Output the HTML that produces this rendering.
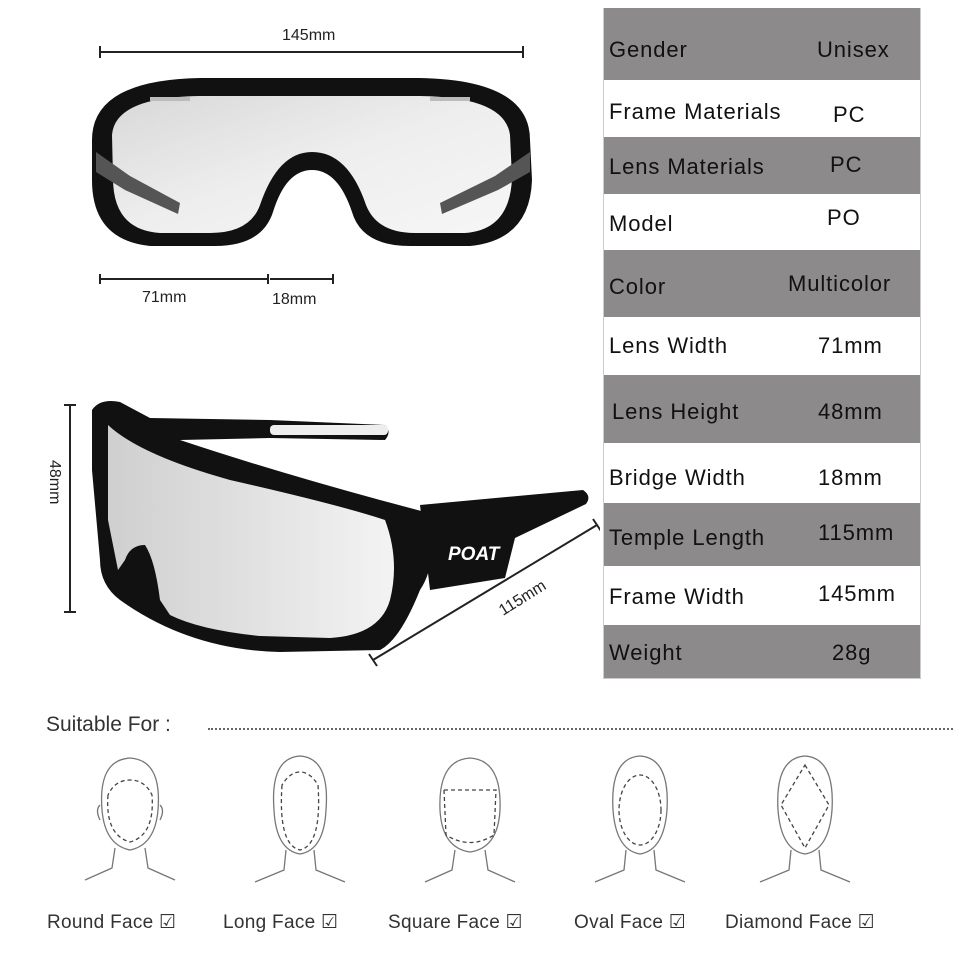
<!DOCTYPE html>
<html><head><meta charset="utf-8"><style>
html,body{margin:0;padding:0;background:#fff;width:960px;height:960px;overflow:hidden;font-family:"Liberation Sans","DejaVu Sans",sans-serif;}
.abs{position:absolute}
.tbl{position:absolute;left:603px;top:8px;width:316px;border:1px solid #ccc;border-top:none}
.row{position:relative;font-size:22px;color:#111;letter-spacing:0.9px}
.row.g{background:#8c8a8a}
.row .k{position:absolute;left:5px}
.row .v{position:absolute}
.face{position:absolute;font-size:19px;color:#333;top:911px;letter-spacing:0.3px}
</style></head><body>

<svg class="abs" style="left:0;top:0" width="600" height="700" viewBox="0 0 600 700">
<defs>
<linearGradient id="lens" x1="0" x2="1" y1="0" y2="1">
<stop offset="0" stop-color="#d8d8d8"/><stop offset="0.5" stop-color="#eeeeee"/><stop offset="1" stop-color="#f6f6f6"/></linearGradient>
<linearGradient id="lens2" x1="0" x2="1"><stop offset="0" stop-color="#cfcfcf"/><stop offset="1" stop-color="#f3f3f3"/></linearGradient>
</defs>
<g stroke="#222" stroke-width="2">
<line x1="100" y1="52" x2="523" y2="52"/><line x1="100" y1="46" x2="100" y2="58"/><line x1="523" y1="46" x2="523" y2="58"/>
<line x1="100" y1="279" x2="268" y2="279"/><line x1="100" y1="274" x2="100" y2="284"/><line x1="268" y1="274" x2="268" y2="284"/>
<line x1="270" y1="279" x2="333" y2="279"/><line x1="333" y1="274" x2="333" y2="284"/>
<line x1="70" y1="405" x2="70" y2="612"/><line x1="64" y1="405" x2="76" y2="405"/><line x1="64" y1="612" x2="76" y2="612"/>
<line x1="373" y1="660" x2="597" y2="525"/><line x1="369" y1="654" x2="377" y2="666"/><line x1="593" y1="519" x2="601" y2="531"/>
</g>
<path d="M92 140 Q92 80 200 78 L420 78 Q530 80 530 140 L532 180 Q530 240 470 246 L410 246 Q362 246 352 212 Q338 170 312 170 Q286 170 273 212 Q262 246 215 246 L150 246 Q92 240 92 180 Z" fill="#111"/>
<path d="M112 135 Q115 97 200 96 L420 96 Q505 97 510 135 L512 178 Q510 230 465 233 L415 233 Q377 233 366 205 Q348 152 312 152 Q278 152 260 205 Q250 233 210 233 L160 233 Q113 230 113 178 Z" fill="url(#lens)"/>
<path d="M96 152 L130 176 L180 203 L178 214 L125 190 L96 172Z" fill="#555"/>
<path d="M530 152 L495 176 L440 203 L442 214 L498 190 L530 172Z" fill="#555"/>
<rect x="150" y="97" width="40" height="4" fill="#bbb"/><rect x="430" y="97" width="40" height="4" fill="#bbb"/>
<path d="M420 505 L583 490 Q592 496 586 504 L515 538 L505 578 L430 590 Z" fill="#111"/>
<path d="M92 410 Q100 398 120 402 L150 418 L270 420 L385 425 Q392 432 385 440 L270 438 L180 440 Q270 470 380 500 L425 512 Q440 560 420 590 Q400 640 380 650 L280 652 Q190 650 120 600 Q100 585 100 560 L92 470 Z" fill="#111"/>
<path d="M108 425 Q140 455 230 480 Q340 505 385 520 Q400 560 390 600 Q380 635 330 638 L260 636 Q200 630 170 615 L160 600 Q155 560 145 545 Q130 545 125 560 L118 570 L108 520 Z" fill="url(#lens2)"/>
<rect x="270" y="425" width="118" height="10" rx="4" fill="#eee"/>
<text x="448" y="560" font-family="Liberation Sans" font-weight="bold" font-style="italic" font-size="19" fill="#fff">POAT</text>
<text x="282" y="40" font-size="16" fill="#222">145mm</text>
<text x="142" y="302" font-size="16" fill="#222">71mm</text>
<text x="272" y="304" font-size="16" fill="#222">18mm</text>
<text x="0" y="0" font-size="16" fill="#222" transform="translate(50 460) rotate(90)">48mm</text>
<text x="0" y="0" font-size="16" fill="#222" transform="translate(503 616) rotate(-32)">115mm</text>
</svg>

<div class="tbl">
<div class="row g" style="height:72px"><span class="k" style="top:29px">Gender</span><span class="v" style="left:213px;top:29px">Unisex</span></div>
<div class="row" style="height:57px"><span class="k" style="top:19px">Frame Materials</span><span class="v" style="left:229px;top:22px">PC</span></div>
<div class="row g" style="height:57px"><span class="k" style="top:17px">Lens Materials</span><span class="v" style="left:226px;top:15px">PC</span></div>
<div class="row" style="height:56px"><span class="k" style="top:17px">Model</span><span class="v" style="left:223px;top:11px">PO</span></div>
<div class="row g" style="height:67px"><span class="k" style="top:24px">Color</span><span class="v" style="left:184px;top:21px">Multicolor</span></div>
<div class="row" style="height:58px"><span class="k" style="top:16px">Lens Width</span><span class="v" style="left:214px;top:16px">71mm</span></div>
<div class="row g" style="height:68px"><span class="k" style="left:8px;top:24px">Lens Height</span><span class="v" style="left:214px;top:24px">48mm</span></div>
<div class="row" style="height:60px"><span class="k" style="top:22px">Bridge Width</span><span class="v" style="left:214px;top:22px">18mm</span></div>
<div class="row g" style="height:63px"><span class="k" style="top:22px">Temple Length</span><span class="v" style="left:214px;top:17px">115mm</span></div>
<div class="row" style="height:59px"><span class="k" style="top:18px">Frame Width</span><span class="v" style="left:214px;top:15px">145mm</span></div>
<div class="row g" style="height:53px"><span class="k" style="top:15px">Weight</span><span class="v" style="left:228px;top:15px">28g</span></div>
</div>

<div class="abs" style="left:46px;top:713px;font-size:21px;color:#333">Suitable For :</div>
<div class="abs" style="left:208px;top:728px;width:745px;border-top:2px dotted #666"></div>

<svg class="abs" style="left:0;top:750px" width="960" height="150" viewBox="0 0 960 150">
<g fill="none" stroke="#777" stroke-width="1.3">
<g transform="translate(130 0)"><path d="M-28 60 Q-32 10 0 8 Q32 10 28 60 Q25 95 0 100 Q-25 95 -28 60Z"/><path d="M-15 98 L-18 118 L-45 130 M15 98 L18 118 L45 130"/><path d="M-30 55 Q-35 60 -30 70 M30 55 Q35 60 30 70"/><path d="M-22 45 Q-25 85 0 92 Q25 85 22 45 Q15 30 0 30 Q-15 30 -22 45Z" stroke-dasharray="4 3" stroke="#444"/></g>
<g transform="translate(300 0)"><path d="M-26 60 Q-30 8 0 6 Q30 8 26 60 Q24 100 0 104 Q-24 100 -26 60Z"/><path d="M-14 100 L-16 120 L-45 132 M14 100 L16 120 L45 132"/><path d="M-18 35 Q-22 95 0 100 Q22 95 18 35 Q10 22 0 22 Q-10 22 -18 35Z" stroke-dasharray="4 3" stroke="#444"/></g>
<g transform="translate(470 0)"><path d="M-30 60 Q-32 10 0 8 Q32 10 30 60 Q28 98 0 102 Q-28 98 -30 60Z"/><path d="M-15 100 L-18 120 L-45 132 M15 100 L18 120 L45 132"/><path d="M-26 40 L26 40 L24 85 Q0 100 -24 85Z" stroke-dasharray="4 3" stroke="#444"/></g>
<g transform="translate(640 0)"><path d="M-27 60 Q-30 8 0 6 Q30 8 27 60 Q24 100 0 104 Q-24 100 -27 60Z"/><path d="M-14 100 L-16 120 L-45 132 M14 100 L16 120 L45 132"/><ellipse cx="0" cy="60" rx="21" ry="35" stroke-dasharray="4 3" stroke="#444"/></g>
<g transform="translate(805 0)"><path d="M-27 60 Q-30 8 0 6 Q30 8 27 60 Q24 100 0 104 Q-24 100 -27 60Z"/><path d="M-14 100 L-16 120 L-45 132 M14 100 L16 120 L45 132"/><path d="M0 15 L24 55 L0 98 L-24 55Z" stroke-dasharray="4 3" stroke="#444"/></g>
</g>
</svg>

<div class="face" style="left:47px">Round Face ☑</div>
<div class="face" style="left:223px">Long Face ☑</div>
<div class="face" style="left:388px">Square Face ☑</div>
<div class="face" style="left:574px">Oval Face ☑</div>
<div class="face" style="left:725px">Diamond Face ☑</div>
</body></html>
